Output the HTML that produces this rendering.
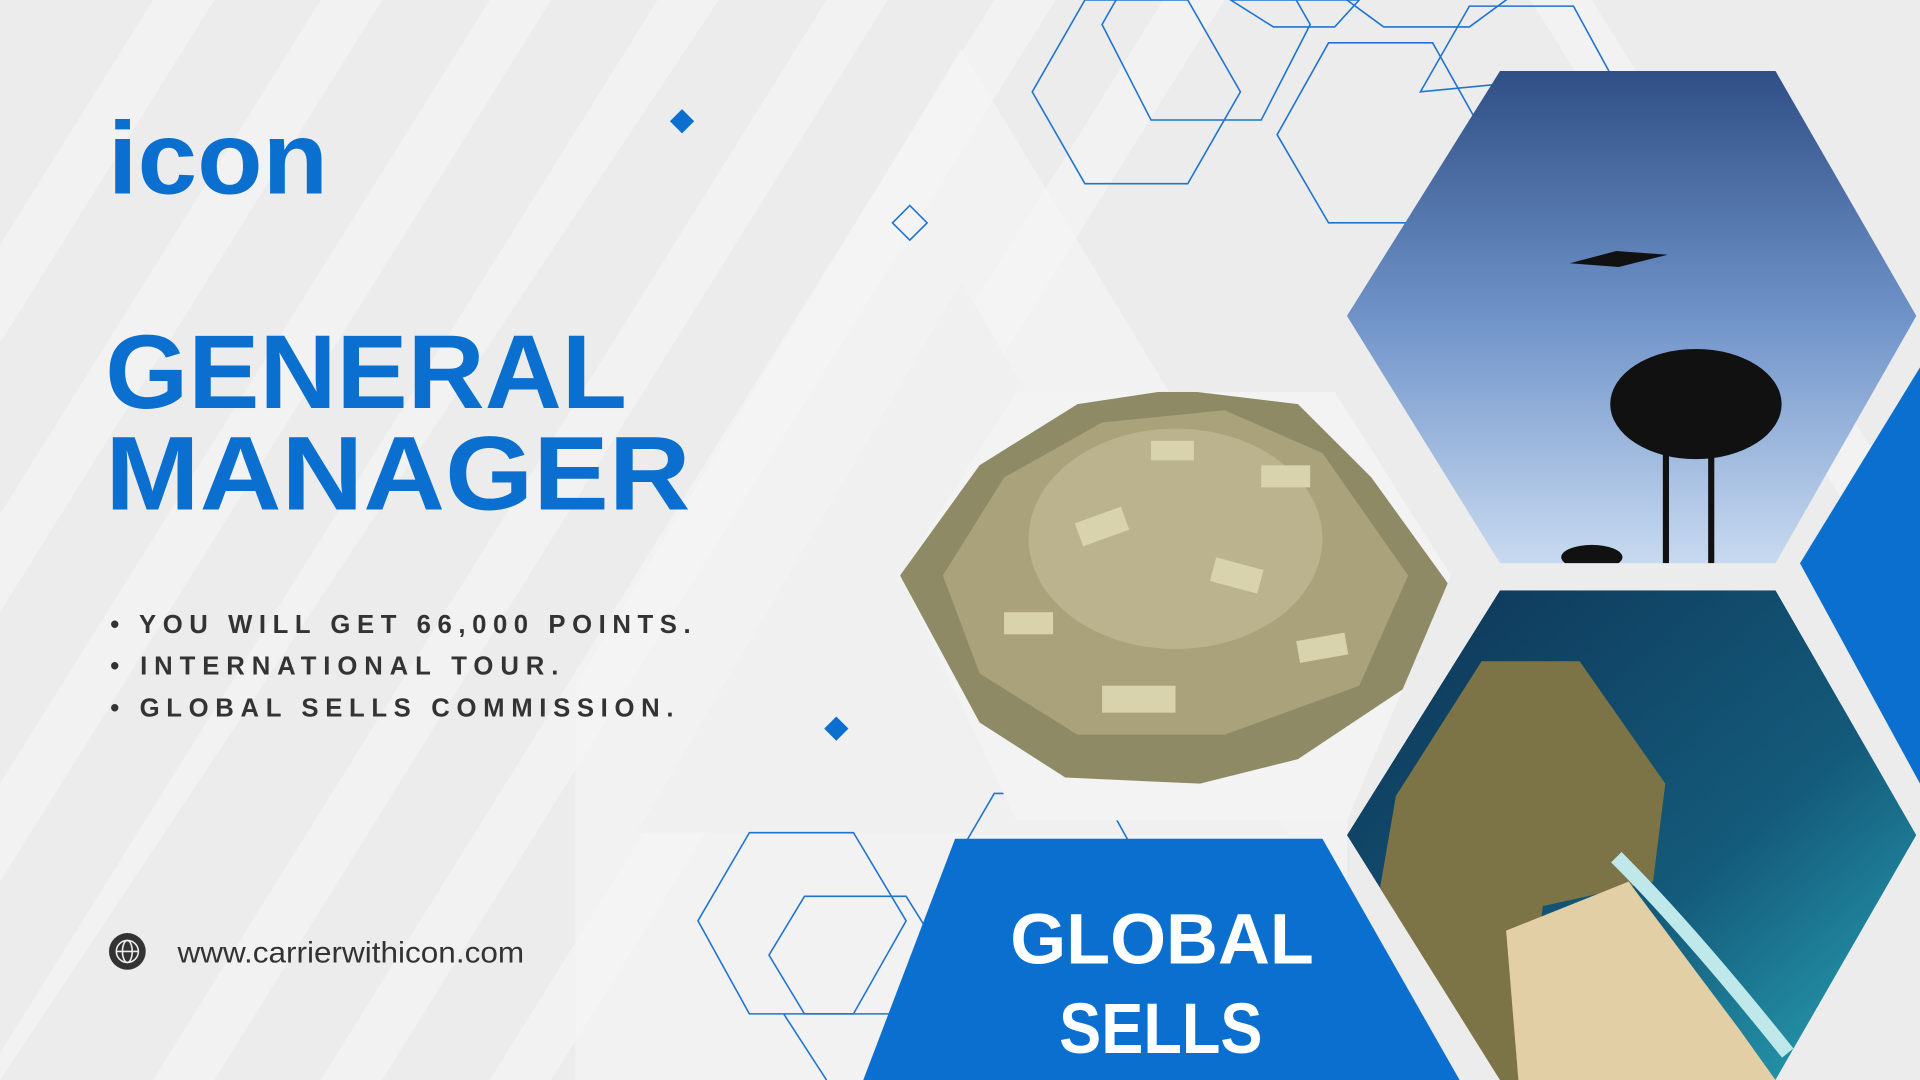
<!DOCTYPE html>
<html><head><meta charset="utf-8"><style>
html,body{margin:0;padding:0;width:1920px;height:1080px;overflow:hidden;background:#efefef}
svg{display:block}
text{font-family:"Liberation Sans",sans-serif}
</style></head><body>
<svg width="1920" height="1080" viewBox="0 0 1568 882" xmlns="http://www.w3.org/2000/svg">
<defs>
<linearGradient id="sky" x1="0" y1="0" x2="0" y2="1"><stop offset="0" stop-color="#2f4f86"/><stop offset="0.5" stop-color="#6f93c9"/><stop offset="1" stop-color="#c8daf0"/></linearGradient>
<linearGradient id="sea" x1="0" y1="0" x2="1" y2="1"><stop offset="0" stop-color="#0e3456"/><stop offset="0.6" stop-color="#145a7a"/><stop offset="1" stop-color="#2aa8b8"/></linearGradient>
<clipPath id="seaclip"><polygon points="1100,682 1225,482 1450,482 1565,682 1450,882 1225,882"/></clipPath>
<clipPath id="skyclip"><polygon points="1100,258 1225,58 1450,58 1565,258 1450,460 1225,460"/></clipPath>
<clipPath id="moneyclip"><polygon points="735,470 830,320 1090,320 1185,470 1100,670 830,670"/></clipPath>
</defs>
<g>
<rect width="1568" height="882" fill="#ececec"/>
<g fill="#f2f2f2">
<polygon points="0,200 125,0 175,0 0,280"/>
<polygon points="0,420 262,0 312,0 0,500"/>
<polygon points="0,640 400,0 450,0 0,720"/>
<polygon points="0,860 537,0 587,0 0,882"/>
<polygon points="125,882 675,0 725,0 175,882"/>
<polygon points="262,882 812,0 862,0 312,882"/>
<polygon points="400,882 950,0 1000,0 450,882"/>
<polygon points="1250,0 1300,0 1568,430 1568,510"/>
</g>
<polygon points="785,40 1100,560 1100,882 470,882 470,560" fill="#f4f4f4" opacity="0.8"/>
<polygon points="785,230 1050,680 520,680" fill="#f0f0f0"/>
</g>
<g fill="none" stroke="#1f74d0" stroke-width="1.3">
<polygon points="843,75 886,0 970,0 1013,75 970,150 886,150"/>
<polygon points="900,20 940,-50 1030,-50 1070,20 1030,98 940,98"/>
<polygon points="1043,110 1085,35 1170,35 1212,110 1170,182 1085,182"/>
<polygon points="1160,75 1200,5 1285,5 1315,60"/>
<polygon points="1100,0 1130,-50 1200,-50 1230,0 1200,22 1130,22"/>
<polygon points="1005,0 1040,22 1090,22 1110,0"/>
<polygon points="570,752 612,680 697,680 740,752 697,828 612,828"/>
<polygon points="628,780 657,732 740,732 770,780 740,828 657,828"/>
<polygon points="770,720 812,648 900,648 940,720"/>
<polyline points="640,828 675,882"/>
</g>
<g>
<rect x="550" y="92" width="14" height="14" fill="#0a6fce" transform="rotate(45 557 99)"/>
<rect x="676" y="588" width="14" height="14" fill="#0a6fce" transform="rotate(45 683 595)"/>
<rect x="733" y="172" width="20" height="20" fill="none" stroke="#1f74d0" stroke-width="1.3" transform="rotate(45 743 182)"/>
</g>
<g>
<polygon points="735,470 830,320 1090,320 1185,470 1100,670 830,670" fill="#f3f3f3"/>
<g clip-path="url(#moneyclip)">
<path d="M735,470 L800,380 L880,330 L960,318 L1060,330 L1120,390 L1185,480 L1150,560 L1060,620 L980,640 L870,635 L800,590 Z" fill="#8f8a66"/>
<path d="M770,470 L820,390 L900,345 L1000,335 L1080,370 L1150,470 L1110,560 L1000,600 L880,600 L800,550 Z" fill="#a9a27a"/>
<ellipse cx="960" cy="440" rx="120" ry="90" fill="#bab38e"/>
<g fill="#d9d3ad"><rect x="880" y="420" width="40" height="20" transform="rotate(-20 900 430)"/><rect x="990" y="460" width="40" height="20" transform="rotate(15 1010 470)"/><rect x="900" y="560" width="60" height="22"/><rect x="1030" y="380" width="40" height="18"/><rect x="820" y="500" width="40" height="18"/><rect x="940" y="360" width="35" height="16"/><rect x="1060" y="520" width="40" height="18" transform="rotate(-10 1080 530)"/></g>
</g>
</g>
<g>
<polygon points="1100,258 1225,58 1450,58 1565,258 1450,460 1225,460" fill="url(#sky)"/>
<g clip-path="url(#skyclip)" fill="#111">
<rect x="1358" y="360" width="5" height="100"/><rect x="1395" y="360" width="5" height="100"/>
<ellipse cx="1385" cy="330" rx="70" ry="45"/>
<ellipse cx="1300" cy="455" rx="25" ry="10"/>
<polygon points="1282,215 1320,205 1362,208 1322,218"/>
</g>
</g>
<g clip-path="url(#seaclip)">
<polygon points="1100,682 1225,482 1450,482 1565,682 1450,882 1225,882" fill="url(#sea)"/>
<polygon points="1140,650 1210,540 1290,540 1360,640 1350,720 1260,740 1240,882 1100,882" fill="#7c7446"/>
<polygon points="1230,760 1330,720 1420,840 1450,882 1240,882" fill="#e2cfa5"/>
<path d="M1320,700 Q1380,760 1460,860" stroke="#bfe8ea" stroke-width="12" fill="none"/>
</g>
<polygon points="1568,300 1470,460 1568,640" fill="#0a6fce"/>
<g>
<polygon points="780,685 1080,685 1192,882 705,882" fill="#0a6fce"/>
<text x="825" y="787" font-size="58" font-weight="bold" fill="#fff" textLength="248" lengthAdjust="spacingAndGlyphs">GLOBAL</text>
<text x="865" y="860" font-size="58" font-weight="bold" fill="#fff" textLength="166" lengthAdjust="spacingAndGlyphs">SELLS</text>
</g>
<g>
<text x="88" y="158" font-size="84" font-weight="bold" fill="#0a6fce" textLength="180" lengthAdjust="spacingAndGlyphs">icon</text>
</g>
<text x="86" y="333" font-size="86" font-weight="bold" fill="#0a6fce" textLength="426" lengthAdjust="spacingAndGlyphs">GENERAL</text>
<text x="86" y="416" font-size="86" font-weight="bold" fill="#0a6fce" textLength="478" lengthAdjust="spacingAndGlyphs">MANAGER</text>
<g font-size="21" font-weight="bold" fill="#333">
<text x="90" y="517" textLength="474" lengthAdjust="spacing">• YOU WILL GET 66,000 POINTS.</text>
<text x="90" y="551" textLength="366" lengthAdjust="spacing">• INTERNATIONAL TOUR.</text>
<text x="90" y="585" textLength="460" lengthAdjust="spacing">• GLOBAL SELLS COMMISSION.</text>
</g>
<g>
<circle cx="104" cy="777" r="15" fill="#333"/>
<g fill="none" stroke="#eee" stroke-width="1.3"><circle cx="104" cy="777" r="9"/><ellipse cx="104" cy="777" rx="4" ry="9"/><line x1="95" y1="777" x2="113" y2="777"/></g>
</g>
<text x="145" y="786" font-size="24" fill="#333" textLength="283" lengthAdjust="spacingAndGlyphs">www.carrierwithicon.com</text>
</svg>
</body></html>
